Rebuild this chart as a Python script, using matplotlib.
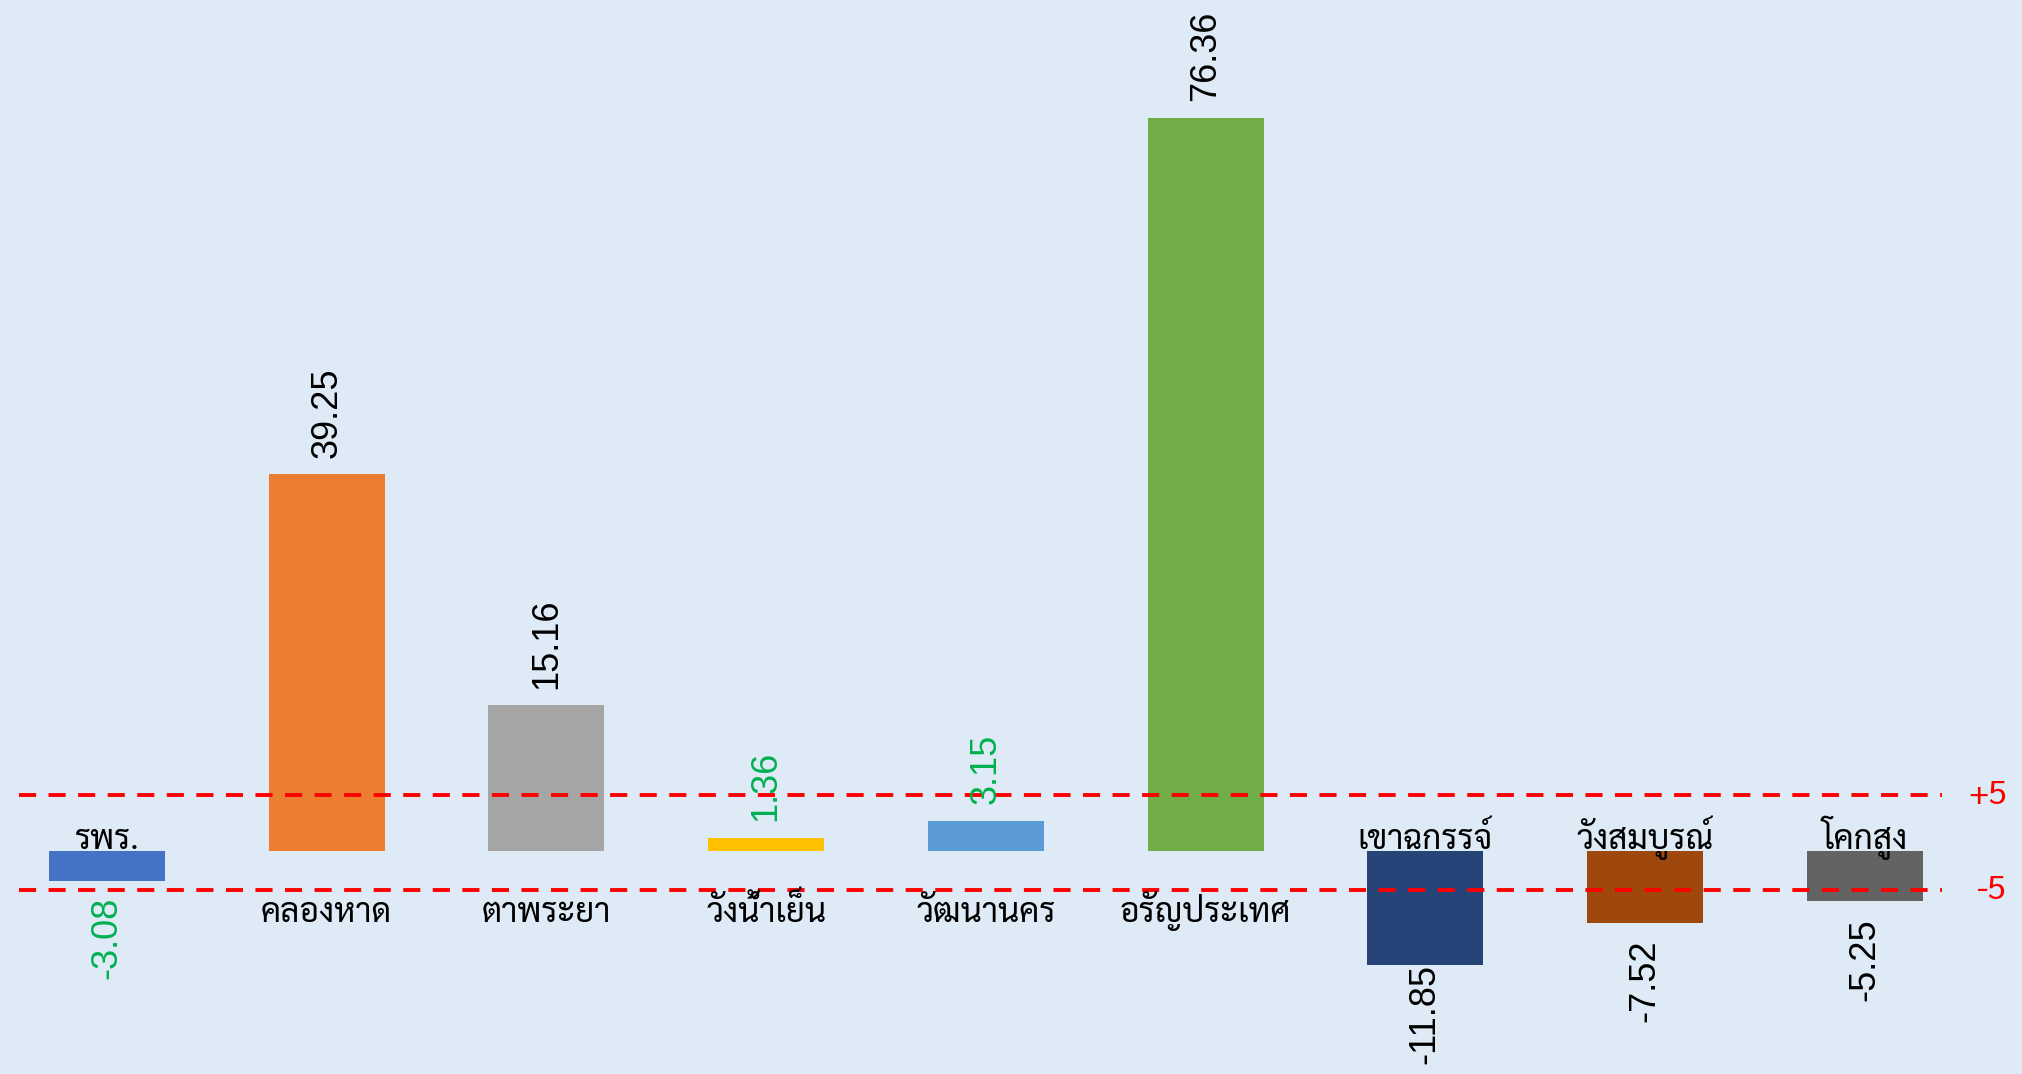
import matplotlib
matplotlib.use("Agg")
import matplotlib.pyplot as plt
from matplotlib import font_manager as fm

# ---- data ----
categories = ["รพร.", "คลองหาด", "ตาพระยา", "วังน้ำเย็น", "วัฒนานคร",
              "อรัญประเทศ", "เขาฉกรรจ์", "วังสมบูรณ์", "โคกสูง"]
values = [-3.08, 39.25, 15.16, 1.36, 3.15, 76.36, -11.85, -7.52, -5.25]
bar_colors = ["#4472C4", "#ED7D31", "#A5A5A5", "#FFC000", "#5B9BD5",
              "#70AD47", "#264478", "#9E480E", "#636363"]
green_labels = [-3.08, 1.36, 3.15]
ref_levels = [5.8, -4.05]
ref_texts = ["+5", "-5"]

installed = {f.name for f in fm.fontManager.ttflist}
thai_family = [f for f in ["Sarabun", "Noto Sans Thai Looped", "Loma"] if f in installed][:1] + ["DejaVu Sans"]
num_family = [f for f in ["Liberation Sans"] if f in installed] + ["DejaVu Sans"]

W, H, DPI = 2022, 1074, 100
fig = plt.figure(figsize=(W / DPI, H / DPI), dpi=DPI)
bg = "#DEEBF7"
fig.patch.set_facecolor(bg)
ax = fig.add_axes([0, 0, 1, 1])
ax.set_facecolor(bg)

x = list(range(len(categories)))
ax.bar(x, values, width=0.528, color=bar_colors, zorder=2)
ax.set_xlim(-0.487, 8.716)
ax.set_ylim(-23.23, 88.65)
ax.axis("off")

for lvl, t in zip(ref_levels, ref_texts):
    ax.hlines(lvl, -0.40, 8.35, colors="#FF0000", linewidth=2.8,
              linestyles=(0, (4.4, 3.2)), zorder=3)
    ax.text(8.645, lvl, t, color="#FF0000", fontsize=24, ha="right",
            va="center", family=thai_family)

# category labels
for xi, c, v in zip(x, categories, values):
    if v >= 0:
        ax.annotate(c, (xi, 0), xytext=(0, -51), textcoords="offset points",
                    ha="center", va="baseline", fontsize=24, family=thai_family)
    else:
        ax.annotate(c, (xi, 0), xytext=(0, 1.5), textcoords="offset points",
                    ha="center", va="baseline", fontsize=24, family=thai_family,
                    zorder=4)

# value labels
vtexts = []
for xi, v in zip(x, values):
    col = "#00B050" if v in green_labels else "black"
    lab = f"{v:.2f}"
    if v >= 0:
        t = ax.annotate(lab, (xi, v), xytext=(0, 12), textcoords="offset points",
                        ha="center", va="bottom", rotation=90, fontsize=26,
                        color=col, family=num_family)
    else:
        t = ax.annotate(lab, (xi, v), xytext=(0, -12), textcoords="offset points",
                        ha="center", va="top", rotation=90, fontsize=26,
                        color=col, family=num_family)
    vtexts.append((t, v))

fig.canvas.draw()
r = fig.canvas.get_renderer()
for t, v in vtexts:
    if v < 0:
        bb = t.get_window_extent(r)
        if bb.y0 < 10:
            dy = (10 - bb.y0) * 72 / DPI
            ox, oy = t.xyann
            t.xyann = (ox, oy + dy)

fig.savefig("out.png", dpi=DPI, facecolor=bg)
